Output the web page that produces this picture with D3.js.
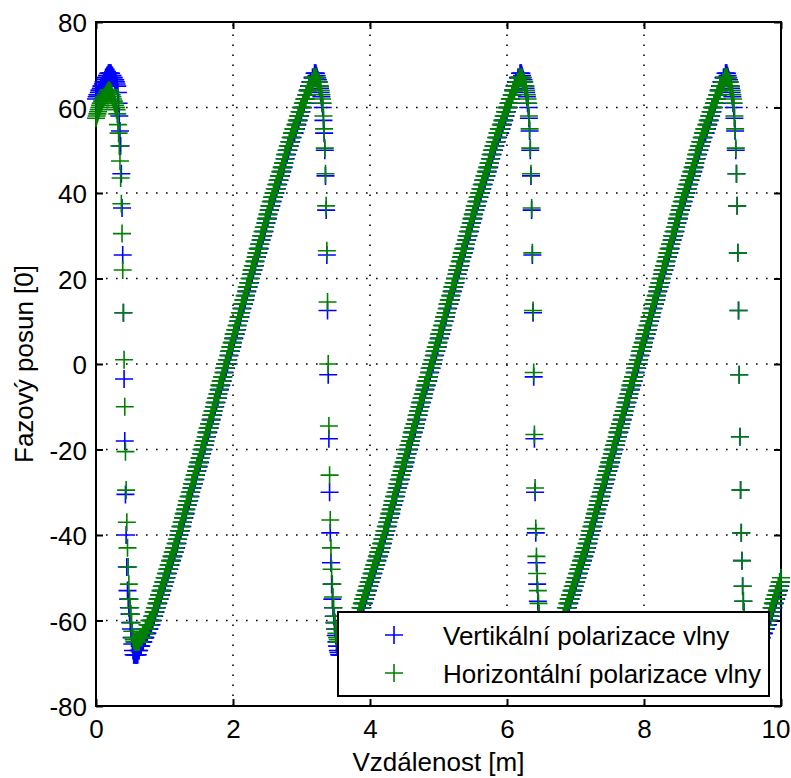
<!DOCTYPE html>
<html><head><meta charset="utf-8">
<script src="https://cdn.jsdelivr.net/npm/d3@7"></script>
<style>
html,body{margin:0;padding:0;background:#fff;}
svg{display:block;font-family:"Liberation Sans",Arial,sans-serif;}
</style>
</head><body>
<svg id="chart" width="791" height="778"></svg>
<script>
// ---------------- DATA ----------------
const distanceStep = 0.01;            // samples every 1 cm, 0 .. 10 m
const xTicks = [0, 2, 4, 6, 8, 10];
const yTicks = [-80, -60, -40, -20, 0, 20, 40, 60, 80];
const xLabel = "Vzdálenost [m]";
const yLabel = "Fazový posun [0]";
const seriesNames = ["Vertikální polarizace vlny", "Horizontální polarizace vlny"];
const seriesColors = ["#0000ff", "#008000"];

// Vertical polarisation (blue)
const vertStart = [ // 0.00–0.59
62,62.5,63,63,63.5,64,64,64.5,65,65,
65.5,66,66,66.5,67,67,67.5,67.5,68,68,
68,68,68,67.5,67.5,67,67,66.5,66.5,66,
65.5,65,63.5,61,58,54.5,51,44.5,36.5,25.5,
12,-3.5,-18,-30.5,-40,-47.5,-53,-55,-57,-58.5,
-60.5,-62,-64,-65.5,-67,-68,-68,-68,-68,-68];
const vertRise = [ // 2.60 m long ramp, seen three times (0.60, 3.60, 6.60)
-68,-68,-67,-67,-66,-66,-66,-65,-65,-65,
-64,-64,-64,-63,-63,-63,-62,-62,-62,-61,
-61,-61,-60,-60,-59,-59,-58,-58,-57,-57,
-56,-56,-55,-55,-54,-54,-53,-53,-52,-52,
-51,-51,-50,-50,-49,-49,-48,-48,-47,-47,
-46,-46,-45,-45,-44,-44,-43,-43,-42,-42,
-41,-40,-40,-39,-39,-38,-38,-37,-36,-36,
-35,-35,-34,-33,-33,-32,-32,-31,-31,-30,
-29,-29,-28,-28,-27,-27,-26,-25,-25,-24,
-24,-23,-23,-22,-21,-21,-20,-20,-19,-19,
-18,-17,-17,-16,-16,-15,-15,-14,-13,-13,
-12,-12,-11,-10,-10,-9,-9,-8,-8,-7,
-6,-6,-5,-5,-4,-4,-3,-2,-2,-1,
-1,0,0,1,2,2,3,3,4,4,
5,6,6,7,7,8,8,9,10,10,
11,11,12,13,13,14,14,15,15,16,
17,17,18,18,19,19,20,21,21,22,
22,23,23,24,25,25,26,26,27,27,
28,29,29,30,30,31,31,32,33,33,
34,34,35,36,36,37,37,38,38,39,
39,40,40,41,41,42,42,43,43,44,
44,45,45,46,46,47,48,48,49,49,
50,50,51,51,52,52,53,53,54,54,
54,55,55,56,56,57,57,58,58,59,
59,60,60,61,61,62,62,63,63,64,
64,65,65,66,66,66,67,67,67,68];
const vertDrop2 = [ // 3.20–3.59
68,68,67.5,67,66.5,66,65,64.5,63.5,62.5,
61,60,57,54,50,44,36,25.5,12.5,-2.5,
-17.5,-30,-39.5,-46.5,-51.5,-55,-57,-59,-60.5,-62,
-63.5,-65,-66,-67,-67.5,-68,-68,-68,-68,-68];
const vertDrop3 = [ // 6.20–6.59
68,68,67.5,67,66.5,66,65,64.5,63.5,62.5,
61,60,57.5,54.5,50,44,36,25.5,12,-3,
-17.5,-30,-39.5,-46.5,-51.5,-55.5,-58,-60,-61.5,-63,
-64.5,-65.5,-66.5,-67,-67.5,-68,-68,-68,-68,-68];
const vertDrop4 = [ // 9.20–9.59
68,68,67.5,67,66.5,66,65,64.5,63.5,62.5,
61,60,57.5,54.5,50,44.5,37,26,12.5,-2.5,
-17,-29.5,-39.5,-46,-52,-55.5,-58,-60,-61.5,-63,
-64.5,-65.5,-66.5,-67,-67.5,-68,-68,-68,-68,-68];
const vertEnd = [ // 9.60–10.00
-68,-68,-67,-67,-66,-66,-66,-65,-65,-65,
-64,-64,-64,-63,-63,-63,-62,-62,-62,-61,
-61,-61,-60,-60,-59,-59,-58,-58,-57,-57,
-56,-56,-55,-55,-54,-54,-53,-53,-52,-52,
-51];

// Horizontal polarisation (green)
const horizStart = [ // 0.00–0.59
57.5,58,58.5,59,59.5,60,60.5,61,61,61.5,
62,62,62.5,62.5,63,63,63.5,63.5,64,64,
64,63.5,63.5,63,62.5,62,61.5,61,60.5,60,
59.5,58.5,56,54,51,47.5,43.5,37.5,30.5,22,
12,1,-10,-20.5,-29.5,-37,-43,-47.5,-51.5,-55,
-57,-58.5,-60.5,-62.5,-64,-64.5,-65,-65,-65,-65];
const horizRise = [ // 2.60 m long ramp, seen three times
-65,-65,-65,-65,-64,-64,-64,-64,-63,-63,
-63,-63,-62,-62,-62,-61,-61,-61,-60,-60,
-60,-60,-59,-59,-58,-58,-57,-57,-56,-56,
-55,-55,-54,-54,-53,-53,-52,-52,-51,-51,
-50,-50,-49,-49,-48,-48,-47,-47,-46,-46,
-45,-45,-44,-44,-43,-43,-42,-42,-41,-41,
-40,-39,-39,-38,-38,-37,-37,-36,-35,-35,
-34,-34,-33,-32,-32,-31,-31,-30,-30,-29,
-28,-28,-27,-27,-26,-26,-25,-24,-24,-23,
-23,-22,-22,-21,-20,-20,-19,-19,-18,-18,
-17,-16,-16,-15,-15,-14,-14,-13,-12,-12,
-11,-11,-10,-9,-9,-8,-8,-7,-7,-6,
-5,-5,-4,-4,-3,-3,-2,-1,-1,0,
0,1,1,2,3,3,4,4,5,5,
6,7,7,8,8,9,9,10,11,11,
12,12,13,14,14,15,15,16,16,17,
18,18,19,19,20,20,21,22,22,23,
23,24,24,25,26,26,27,27,28,28,
29,30,30,31,31,32,32,33,34,34,
35,35,36,37,37,38,38,39,39,40,
40,41,41,42,42,43,43,44,44,45,
45,46,46,47,47,48,49,49,50,50,
51,51,52,52,53,53,54,54,55,55,
55,56,56,57,57,58,58,59,59,60,
60,60,61,61,62,62,62,63,63,64,
64,64,65,65,65,66,66,66,67,67];
const horizDrop2 = [ // 3.20–3.59
67,67,67,66,66,66,65,65,64,63,
62,61,58,55,50.5,44.5,37,26.5,14.5,0,
-14.5,-26,-36.5,-43,-48,-51.5,-54.5,-57,-59,-60.5,
-62,-63,-64,-64.5,-65,-65,-65,-65,-65,-65];
const horizDrop3 = [ // 6.20–6.59
67,67,67,66,66,66,65,65,64,63,
62,61,58,55,50.5,44.5,36.5,26,12.5,-2,
-16.5,-29,-38.5,-45,-49,-53,-56,-58.5,-60,-61.5,
-63,-64,-64.5,-65,-65,-65,-65,-65,-65,-65];
const horizDrop4 = [ // 9.20–9.59
67,67,67,66,66,66,65,65,64,63,
62,61,58,55,50.5,44.5,37,26,12.5,-2.5,
-17,-29.5,-39.5,-46,-52,-55.5,-58,-60,-61.5,-63,
-64,-64.5,-65,-65,-65,-65,-65,-65,-65,-65];
const horizEnd = [ // 9.60–10.00
-65,-65,-65,-65,-64,-64,-64,-64,-63,-63,
-63,-63,-62,-62,-62,-61,-61,-61,-60,-60,
-60,-60,-59,-59,-58,-58,-57,-57,-56,-56,
-55,-55,-54,-54,-53,-53,-52,-52,-51,-51,
-50];

const vertikalni = [].concat(vertStart, vertRise, vertDrop2, vertRise, vertDrop3, vertRise, vertDrop4, vertEnd);
const horizontalni = [].concat(horizStart, horizRise, horizDrop2, horizRise, horizDrop3, horizRise, horizDrop4, horizEnd);

// ---------------- CHART ----------------
const svg = d3.select("#chart");
const L = 96, R = 781, T = 22, B = 706;
const x = d3.scaleLinear().domain([0, 10]).range([L, R]);
const y = d3.scaleLinear().domain([-80, 80]).range([B, T]);
const FS = 26, MS = 9;

svg.append("rect").attr("width", 791).attr("height", 778).attr("fill", "#fff");

// grid
const grid = svg.append("g").attr("stroke", "#000").attr("stroke-width", 1.6)
  .attr("stroke-dasharray", "1.6 8.4");
grid.selectAll(".gx").data(xTicks.slice(1, -1)).join("line")
  .attr("x1", d => x(d)).attr("x2", d => x(d)).attr("y1", B).attr("y2", T);
grid.selectAll(".gy").data(yTicks.slice(1, -1)).join("line")
  .attr("y1", d => y(d)).attr("y2", d => y(d)).attr("x1", L).attr("x2", R);

// axes
function styleAxis(g, labels) {
  g.select(".domain").remove();
  g.selectAll(".tick line").attr("stroke", "#000").attr("stroke-width", 2);
  if (!labels) g.selectAll(".tick text").remove();
  else g.selectAll(".tick text").attr("fill", "#000").attr("font-size", FS);
}
svg.append("g").attr("transform", `translate(0,${B})`)
  .call(d3.axisBottom(x).tickValues(xTicks).tickSize(-7).tickPadding(14).tickFormat(d3.format("d")))
  .call(g => styleAxis(g, true))
  .call(g => g.attr("font-family", null))
  // keep the last label ("10") inside the 791 px picture
  .call(g => g.selectAll(".tick text").filter(d => d === 10)
    .attr("text-anchor", "end").attr("x", 790 - R));
svg.append("g").attr("transform", `translate(0,${T})`)
  .call(d3.axisTop(x).tickValues(xTicks).tickSize(-7))
  .call(g => styleAxis(g, false));
svg.append("g").attr("transform", `translate(${L},0)`)
  .call(d3.axisLeft(y).tickValues(yTicks).tickSize(-7).tickPadding(9).tickFormat(d3.format("d")))
  .call(g => styleAxis(g, true))
  .call(g => g.selectAll(".tick text").attr("dy", "0.38em"))
  .call(g => g.attr("font-family", null));
svg.append("g").attr("transform", `translate(${R},0)`)
  .call(d3.axisRight(y).tickValues(yTicks).tickSize(-7))
  .call(g => styleAxis(g, false));
svg.selectAll(".tick text").text(d => d < 0 ? "-" + Math.abs(d) : String(d));

svg.append("rect").attr("x", L).attr("y", T).attr("width", R - L).attr("height", B - T)
  .attr("fill", "none").attr("stroke", "#000").attr("stroke-width", 2);

// labels
svg.append("text").attr("x", (L + R) / 2).attr("y", 771).attr("text-anchor", "middle")
  .attr("font-size", FS).attr("fill", "#000").text(xLabel);
svg.append("text").attr("transform", `translate(33,${(T + B) / 2}) rotate(-90)`)
  .attr("text-anchor", "middle").attr("font-size", FS).attr("fill", "#000").text(yLabel);

// data markers
const plus = (cx, cy) => `M${cx - MS},${cy}h${2 * MS}M${cx},${cy - MS}v${2 * MS}`;
[vertikalni, horizontalni].forEach((arr, k) => {
  const pts = arr.map((v, i) => ({ d: i * distanceStep, v }));
  svg.append("g").attr("stroke", seriesColors[k]).attr("stroke-width", 1.6).attr("fill", "none")
    .selectAll("path").data(pts).join("path")
    .attr("d", p => plus(x(p.d), y(p.v)));
});

// legend
const lg = svg.append("g");
lg.append("rect").attr("x", 338).attr("y", 612).attr("width", 431).attr("height", 84)
  .attr("fill", "#fff").attr("stroke", "#000").attr("stroke-width", 2);
seriesNames.forEach((n, k) => {
  const cy = 635 + k * 38;
  lg.append("path").attr("d", plus(394, cy)).attr("stroke", seriesColors[k])
    .attr("stroke-width", 1.6).attr("fill", "none");
  lg.append("text").attr("x", 443).attr("y", cy + 10).attr("font-size", FS)
    .attr("fill", "#000").text(n);
});
</script>
</body></html>
